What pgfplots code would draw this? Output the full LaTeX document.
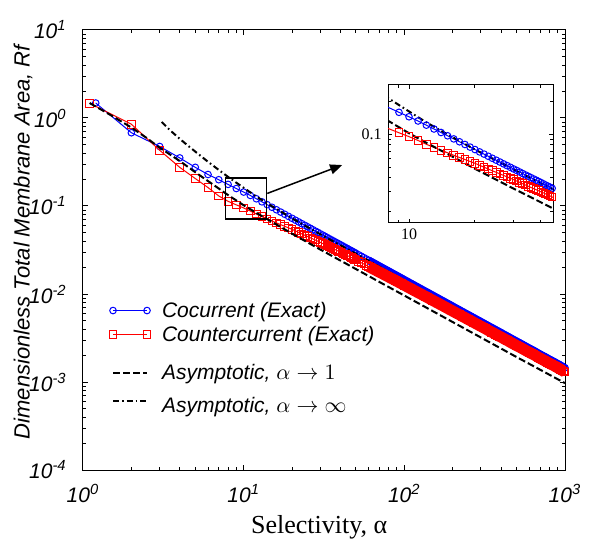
\documentclass[border=0pt]{standalone}
\usepackage{fontspec}
\setmainfont{Liberation Sans}
\newfontfamily\timesfont{Liberation Serif}
\usepackage{pgfplots}
\pgfplotsset{compat=1.18}
\usepackage{pgfplotstable}
\usetikzlibrary{arrows.meta}

\pgfplotstableread{
a r
1.2 1.48
2 0.68
3 0.475
4 0.352
5 0.275
6 0.228
7 0.199
8 0.176
9 0.158
10 0.144
11 0.1318
12 0.1208
13 0.1115
14 0.1036
15 0.0967
16 0.0906
17 0.0853
18 0.0806
19 0.0763
20 0.0725
21 0.0690
22 0.0659
23 0.0630
24 0.0604
25 0.0580
26 0.0558
27 0.0537
28 0.0518
29 0.0500
30 0.0483
31 0.0468
32 0.0453
33 0.0439
34 0.0426
35 0.0414
36 0.0403
37 0.0392
38 0.0382
39 0.0372
40 0.0363
41 0.0354
42 0.0345
43 0.0337
44 0.0330
45 0.0322
46 0.0315
47 0.0309
48 0.0302
49 0.0296
50 0.0290
52 0.02788
54 0.02685
56 0.02589
58 0.02500
60 0.02417
62 0.02339
64 0.02266
66 0.02197
68 0.02132
70 0.02071
72 0.02014
74 0.01959
76 0.01908
78 0.01859
80 0.01813
82 0.01768
84 0.01726
86 0.01686
88 0.01648
90 0.01611
92 0.01576
94 0.01543
96 0.01510
98 0.01480
100 0.01450
105 0.01381
110 0.01318
115 0.01261
120 0.01208
125 0.01160
130 0.01115
135 0.01074
140 0.01036
145 0.01000
150 0.00967
155 0.00935
160 0.00906
165 0.00879
170 0.00853
175 0.00829
180 0.00806
185 0.00784
190 0.00763
195 0.00744
200 0.00725
210 0.00690
220 0.00659
230 0.00630
240 0.00604
250 0.00580
260 0.00558
270 0.00537
280 0.00518
290 0.00500
300 0.00483
310 0.00468
320 0.00453
330 0.00439
340 0.00426
350 0.00414
360 0.00403
370 0.00392
380 0.00382
390 0.00372
400 0.00363
420 0.00345
440 0.00330
460 0.00315
480 0.00302
500 0.00290
520 0.00279
540 0.00269
560 0.00259
580 0.00250
600 0.00242
620 0.00234
640 0.00227
660 0.00220
680 0.00213
700 0.00207
720 0.00201
740 0.00196
760 0.00191
780 0.00186
800 0.00181
820 0.00177
840 0.00173
860 0.00169
880 0.00165
900 0.00161
920 0.00158
940 0.00154
960 0.00151
980 0.00148
1000 0.00145
}\cocurrent

\pgfplotstableread{
a r
1.1 1.47
2 0.85
3 0.43
4 0.275
5 0.205
6 0.162
7 0.130
8 0.113
9 0.103
10 0.095
11 0.0876
12 0.0809
13 0.0758
14 0.0715
15 0.0677
16 0.0643
17 0.0614
18 0.0588
19 0.0565
20 0.0544
21 0.0521
22 0.0501
23 0.0482
24 0.0465
25 0.0450
26 0.0435
27 0.0422
28 0.0409
29 0.0398
30 0.0386
31 0.0375
32 0.0365
33 0.0354
34 0.0345
35 0.0336
36 0.0328
37 0.0320
38 0.0313
39 0.0306
40 0.0299
41 0.0293
42 0.0286
43 0.0280
44 0.0275
45 0.0269
46 0.0263
47 0.0259
48 0.0253
49 0.0248
50 0.0244
52 0.02347
54 0.02266
56 0.02190
58 0.02120
60 0.02054
62 0.01990
64 0.01931
66 0.01874
68 0.01821
70 0.01773
72 0.01726
74 0.01681
76 0.01639
78 0.01599
80 0.01561
82 0.01524
84 0.01490
86 0.01457
88 0.01426
90 0.01394
92 0.01365
94 0.01336
96 0.01309
98 0.01283
100 0.01259
105 0.01200
110 0.01147
115 0.01098
120 0.01053
125 0.01013
130 0.00975
135 0.00940
140 0.00908
145 0.00876
150 0.00848
155 0.00821
160 0.00795
165 0.00773
170 0.00750
175 0.00730
180 0.00709
185 0.00691
190 0.00672
195 0.00656
200 0.00639
210 0.00609
220 0.00583
230 0.00557
240 0.00535
250 0.00513
260 0.00494
270 0.00476
280 0.00459
290 0.00444
300 0.00429
310 0.00416
320 0.00403
330 0.00390
340 0.00379
350 0.00368
360 0.00359
370 0.00349
380 0.00340
390 0.00331
400 0.00324
420 0.00308
440 0.00295
460 0.00281
480 0.00270
500 0.00259
520 0.00250
540 0.00241
560 0.00232
580 0.00224
600 0.00217
620 0.00210
640 0.00204
660 0.00198
680 0.00191
700 0.00186
720 0.00181
740 0.00176
760 0.00172
780 0.00167
800 0.00163
820 0.00159
840 0.00156
860 0.00152
880 0.00149
900 0.00145
920 0.00142
940 0.00139
960 0.00136
980 0.00133
1000 0.00130
}\countercurrent

\pgfplotstableread{
a r
1.1 1.48
1.5 1.07
2 0.78
2.5 0.59
3 0.46
4 0.325
5 0.242
6 0.192
7 0.158
8 0.133
10 0.102
12 0.0835
15 0.066
20 0.0485
30 0.032
50 0.0192
70 0.0137
100 0.0096
150 0.0064
200 0.0048
300 0.0032
500 0.00192
700 0.00138
1000 0.00097
}\asymone

\pgfplotstableread{
a r
3.09 0.90
3.5 0.72
4 0.58
4.5 0.485
5 0.415
6 0.318
7 0.257
8 0.214
9 0.184
10 0.161
12 0.128
15 0.0995
20 0.0725
30 0.0477
50 0.0286
70 0.0204
100 0.0143
150 0.0095
200 0.00713
300 0.00475
500 0.00285
700 0.00204
1000 0.00143
}\asyminf

\pgfplotsset{
  cocstyle/.style={blue, line width=0.5pt, mark=o, mark size=1.65pt, mark options={solid}},
  cntstyle/.style={red, line width=0.5pt, mark=square, mark size=1.9pt, mark options={solid}},
  aonestyle/.style={black, line width=1pt, dash pattern=on 3.5pt off 1.5pt},
  ainfstyle/.style={black, line width=1pt, dash pattern=on 3pt off 1.5pt on 0.8pt off 1.5pt},
}

\begin{document}
\begin{tikzpicture}
\useasboundingbox (-41.5pt,-37.5pt) rectangle (255pt,235pt);
\begin{axis}[
  at={(0pt,0pt)}, anchor=south west,
  scale only axis, width=241pt, height=220pt,
  xmode=log, ymode=log,
  xmin=1, xmax=1000, ymin=1e-4, ymax=10,
  clip mode=individual,
  xtick={1,10,100,1000},
  xticklabels={10\textsuperscript{0},10\textsuperscript{1},10\textsuperscript{2},10\textsuperscript{3}},
  ytick={1e-4,1e-3,1e-2,1e-1,1,10},
  yticklabels={10\textsuperscript{-4},10\textsuperscript{-3},10\textsuperscript{-2},10\textsuperscript{-1},10\textsuperscript{0},10\textsuperscript{1}},
  minor xtick={2,3,4,5,6,7,8,9,20,30,40,50,60,70,80,90,200,300,400,500,600,700,800,900},
  minor ytick={2e-4,3e-4,4e-4,5e-4,6e-4,7e-4,8e-4,9e-4,2e-3,3e-3,4e-3,5e-3,6e-3,7e-3,8e-3,9e-3,0.02,0.03,0.04,0.05,0.06,0.07,0.08,0.09,0.2,0.3,0.4,0.5,0.6,0.7,0.8,0.9,2,3,4,5,6,7,8,9},
  tick align=inside,
  major tick length=2.5pt, minor tick length=1.5pt,
  axis line style={line width=0.5pt},
  tick style={line width=0.5pt, black},
  tick label style={font=\fontsize{10.5}{12}\selectfont\itshape},
  xticklabel style={anchor=base, yshift=-16pt, inner sep=0pt},
  yticklabel style={anchor=east, xshift=-8pt, inner sep=0pt},
  xlabel={Selectivity, α},
  xlabel style={at={(axis description cs:0.49,0)}, anchor=base, yshift=-31.5pt, font=\timesfont\fontsize{13}{15}\selectfont},
  ylabel={Dimensionless Total Membrane Area, Rf},
  ylabel style={at={(axis description cs:-0.1245,0.518)}, anchor=center, font=\fontsize{11}{13}\selectfont\itshape},
  legend image code/.code={\draw[#1] plot coordinates {(0pt,0pt) (17pt,0pt)};},
  legend style={at={(axis description cs:0.0544,0.384)}, anchor=north west, draw=none, fill=none,
    inner sep=0pt, outer sep=0pt, row sep=2.5pt, column sep=5.6pt,
    nodes={inner sep=0pt}, font=\fontsize{10.5}{12}\selectfont\itshape},
  legend cell align=left,
]
% dense overlapping markers form a solid band at high selectivity
\addplot[blue, line width=3.8pt, forget plot, skip coords between index={0}{54}] table[x=a, y=r] {\cocurrent};
\addplot[cocstyle, forget plot] table[x=a, y=r] {\cocurrent};
\addplot[ainfstyle, forget plot] table[x=a, y=r] {\asyminf};
\addplot[red, line width=5.6pt, forget plot, skip coords between index={0}{54}] table[x=a, y=r] {\countercurrent};
\addplot[cntstyle, forget plot] table[x=a, y=r] {\countercurrent};
\addplot[aonestyle, forget plot] table[x=a, y=r] {\asymone};

\addlegendimage{cocstyle}
\addlegendentry{\rule[-3pt]{0pt}{11pt}Cocurrent (Exact)}
\addlegendimage{cntstyle}
\addlegendentry{\rule[-3pt]{0pt}{11pt}Countercurrent (Exact)}
\addlegendimage{empty legend}
\addlegendentry{\rule{0pt}{3pt}}
\addlegendimage{aonestyle}
\addlegendentry{\rule[-3pt]{0pt}{11pt}Asymptotic, $\alpha \rightarrow 1$}
\addlegendimage{ainfstyle}
\addlegendentry{\rule[-7pt]{0pt}{19.5pt}Asymptotic, $\alpha \rightarrow \infty$}

\draw[line width=0.6pt] (axis cs:7.7,0.071) rectangle (axis cs:13.9,0.208);
\draw[line width=0.75pt, -{Triangle[length=6pt,width=5pt]}] (axis cs:14.03,0.139) -- (axis cs:41,0.292);
\end{axis}

\begin{axis}[
  at={(152.5pt,123.5pt)}, anchor=south west,
  scale only axis, width=82.5pt, height=69pt,
  xmode=log, ymode=log,
  xmin=8.02, xmax=45.4, ymin=0.01558, ymax=0.28,
  axis background/.style={fill=white},
  xtick={10}, xticklabels={10},
  ytick={0.1}, yticklabels={0.1},
  minor xtick={9,20,30,40},
  minor ytick={0.02,0.03,0.04,0.05,0.06,0.07,0.08,0.09,0.2},
  tick align=inside,
  major tick length=2pt, minor tick length=1.5pt,
  axis line style={line width=0.5pt},
  tick style={line width=0.5pt, black},
  tick label style={font=\timesfont\fontsize{8}{9}\selectfont},
  xticklabel style={anchor=base, yshift=-8.5pt, inner sep=0pt},
  yticklabel style={anchor=east, xshift=-3pt, inner sep=0pt},
]
\addplot[cocstyle] table[x=a, y=r] {\cocurrent};
\addplot[ainfstyle] table[x=a, y=r] {\asyminf};
\addplot[cntstyle] table[x=a, y=r] {\countercurrent};
\addplot[aonestyle] table[x=a, y=r] {\asymone};
\end{axis}
\end{tikzpicture}
\end{document}
